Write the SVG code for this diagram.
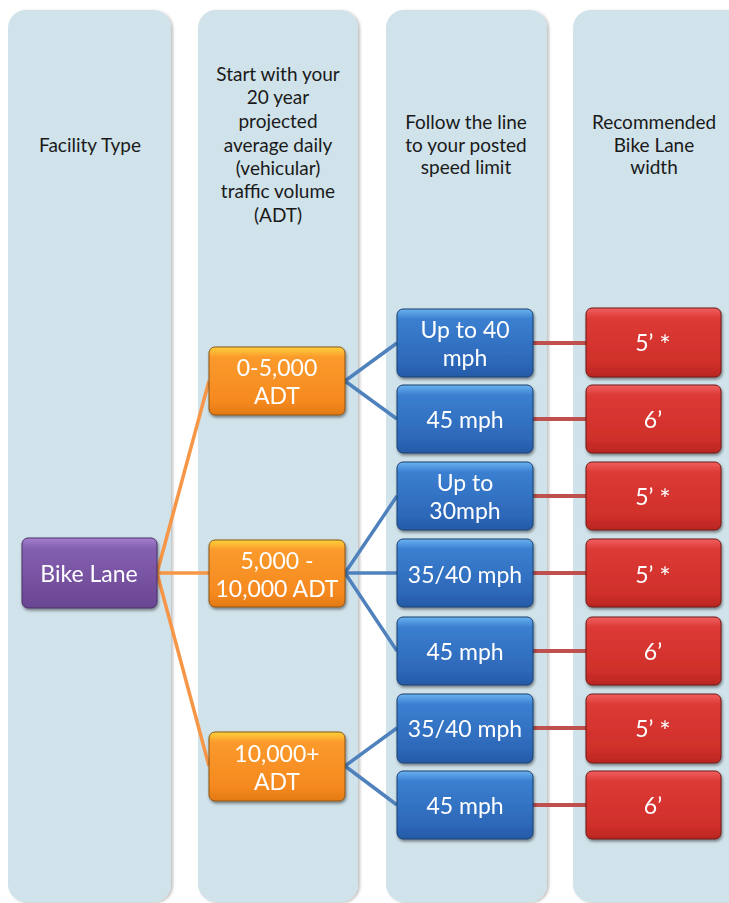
<svg xmlns="http://www.w3.org/2000/svg" width="729" height="903" viewBox="0 0 729 903">
<defs>
<style>
.col{fill:#d0e2ea;}
.hdr{font-family:Lato,"Liberation Sans",sans-serif;font-size:19px;fill:#1a1a1a;text-anchor:middle;}
.nt{font-family:Lato,"Liberation Sans",sans-serif;font-size:23px;fill:#ffffff;text-anchor:middle;}
.ast{font-size:27px;}
.oc{stroke:#f79646;stroke-width:3.5;fill:none;}
.bc{stroke:#4f81bd;stroke-width:3.5;fill:none;}
.rc{stroke:#c0504d;stroke-width:4;fill:none;}
</style>
<linearGradient id="gPurple" x1="0" y1="0" x2="0" y2="1">
<stop offset="0" stop-color="#a580cf"/><stop offset="0.15" stop-color="#8460b0"/><stop offset="1" stop-color="#6a4592"/>
</linearGradient>
<linearGradient id="gOrange" x1="0" y1="0" x2="0" y2="1">
<stop offset="0" stop-color="#fdd23a"/><stop offset="0.15" stop-color="#fb9a2c"/><stop offset="0.8" stop-color="#f5891f"/><stop offset="1" stop-color="#e27a14"/>
</linearGradient>
<linearGradient id="gBlue" x1="0" y1="0" x2="0" y2="1">
<stop offset="0" stop-color="#6ab2f0"/><stop offset="0.15" stop-color="#3b7fd0"/><stop offset="0.8" stop-color="#2d67b8"/><stop offset="1" stop-color="#245aa6"/>
</linearGradient>
<linearGradient id="gRed" x1="0" y1="0" x2="0" y2="1">
<stop offset="0" stop-color="#f06060"/><stop offset="0.15" stop-color="#dd3a35"/><stop offset="0.8" stop-color="#cf2f2a"/><stop offset="1" stop-color="#b92622"/>
</linearGradient>
<filter id="sh" x="-10%" y="-10%" width="125%" height="130%">
<feGaussianBlur in="SourceAlpha" stdDeviation="1.5"/>
<feOffset dx="1" dy="2" result="b"/>
<feComponentTransfer><feFuncA type="linear" slope="0.45"/></feComponentTransfer>
<feMerge><feMergeNode/><feMergeNode in="SourceGraphic"/></feMerge>
</filter>
<filter id="csh" x="-5%" y="-2%" width="110%" height="104%">
<feGaussianBlur in="SourceAlpha" stdDeviation="1.5"/>
<feOffset dx="1.5" dy="1" result="b"/>
<feComponentTransfer><feFuncA type="linear" slope="0.25"/></feComponentTransfer>
<feMerge><feMergeNode/><feMergeNode in="SourceGraphic"/></feMerge>
</filter>
</defs>
<rect width="729" height="903" fill="#ffffff"/>

<g id="columns">
<g id="col-facility"><rect class="col" x="8" y="10" width="163" height="892" rx="18" filter="url(#csh)"/>
<text class="hdr" x="90" y="152">Facility Type</text></g>
<g id="col-adt"><rect class="col" x="198" y="10" width="160" height="892" rx="18" filter="url(#csh)"/>
<text class="hdr" x="278" y="81">Start with your</text>
<text class="hdr" x="278" y="104">20 year</text>
<text class="hdr" x="278" y="128">projected</text>
<text class="hdr" x="278" y="152">average daily</text>
<text class="hdr" x="278" y="175">(vehicular)</text>
<text class="hdr" x="278" y="198">traffic volume</text>
<text class="hdr" x="278" y="222">(ADT)</text></g>
<g id="col-speed"><rect class="col" x="386" y="10" width="161" height="892" rx="18" filter="url(#csh)"/>
<text class="hdr" x="466" y="129">Follow the line</text>
<text class="hdr" x="466" y="152">to your  posted</text>
<text class="hdr" x="466" y="174">speed limit</text></g>
<g id="col-width"><rect class="col" x="573" y="10" width="180" height="892" rx="18" filter="url(#csh)"/>
<text class="hdr" x="654" y="129">Recommended</text>
<text class="hdr" x="654" y="152">Bike Lane</text>
<text class="hdr" x="654" y="174">width</text></g>
</g>

<g id="connectors">
<path class="oc" d="M157,573 L209,381 M157,573 L209,573 M157,573 L209,766"/>
<path class="bc" d="M345,381 L397,343 M345,381 L397,419 M345,573 L397,496 M345,573 L397,573 M345,573 L397,651 M345,766 L397,728 M345,766 L397,805"/>
<path class="rc" d="M533,343 L586,343 M533,419 L586,419 M533,496 L586,496 M533,573 L586,573 M533,651 L586,651 M533,728 L586,728 M533,805 L586,805"/>
</g>

<g id="bike-lane" filter="url(#sh)"><rect x="22" y="538" width="135" height="70" rx="6" fill="url(#gPurple)" stroke="#4b3068" stroke-width="1"/>
<text class="nt" x="89" y="582">Bike Lane</text></g>

<g id="adt-0-5000" filter="url(#sh)"><rect x="209" y="347" width="136" height="68" rx="6" fill="url(#gOrange)" stroke="#8a5418" stroke-width="1"/>
<text class="nt" x="277" y="376">0-5,000</text><text class="nt" x="277" y="404">ADT</text></g>
<g id="adt-5000-10000" filter="url(#sh)"><rect x="209" y="540" width="136" height="67" rx="6" fill="url(#gOrange)" stroke="#8a5418" stroke-width="1"/>
<text class="nt" x="277" y="569">5,000 -</text><text class="nt" x="277" y="597">10,000 ADT</text></g>
<g id="adt-10000plus" filter="url(#sh)"><rect x="209" y="732" width="136" height="69" rx="6" fill="url(#gOrange)" stroke="#8a5418" stroke-width="1"/>
<text class="nt" x="277" y="762">10,000+</text><text class="nt" x="277" y="790">ADT</text></g>

<g id="speed-1" filter="url(#sh)"><rect x="397" y="309" width="136" height="68" rx="6" fill="url(#gBlue)" stroke="#1d406f" stroke-width="1"/>
<text class="nt" x="465" y="338">Up to 40</text><text class="nt" x="465" y="366">mph</text></g>
<g id="speed-2" filter="url(#sh)"><rect x="397" y="385" width="136" height="68" rx="6" fill="url(#gBlue)" stroke="#1d406f" stroke-width="1"/>
<text class="nt" x="465" y="428">45 mph</text></g>
<g id="speed-3" filter="url(#sh)"><rect x="397" y="462" width="136" height="68" rx="6" fill="url(#gBlue)" stroke="#1d406f" stroke-width="1"/>
<text class="nt" x="465" y="491">Up to</text><text class="nt" x="465" y="519">30mph</text></g>
<g id="speed-4" filter="url(#sh)"><rect x="397" y="539" width="136" height="68" rx="6" fill="url(#gBlue)" stroke="#1d406f" stroke-width="1"/>
<text class="nt" x="465" y="583">35/40 mph</text></g>
<g id="speed-5" filter="url(#sh)"><rect x="397" y="617" width="136" height="68" rx="6" fill="url(#gBlue)" stroke="#1d406f" stroke-width="1"/>
<text class="nt" x="465" y="660">45 mph</text></g>
<g id="speed-6" filter="url(#sh)"><rect x="397" y="694" width="136" height="69" rx="6" fill="url(#gBlue)" stroke="#1d406f" stroke-width="1"/>
<text class="nt" x="465" y="737">35/40 mph</text></g>
<g id="speed-7" filter="url(#sh)"><rect x="397" y="771" width="136" height="68" rx="6" fill="url(#gBlue)" stroke="#1d406f" stroke-width="1"/>
<text class="nt" x="465" y="814">45 mph</text></g>

<g id="width-1" filter="url(#sh)"><rect x="586" y="308" width="135" height="69" rx="6" fill="url(#gRed)" stroke="#6e1a17" stroke-width="1"/>
<text class="nt" x="653" y="351">5’ <tspan class="ast" dy="4">*</tspan></text></g>
<g id="width-2" filter="url(#sh)"><rect x="586" y="385" width="135" height="68" rx="6" fill="url(#gRed)" stroke="#6e1a17" stroke-width="1"/>
<text class="nt" x="653" y="428">6’</text></g>
<g id="width-3" filter="url(#sh)"><rect x="586" y="462" width="135" height="68" rx="6" fill="url(#gRed)" stroke="#6e1a17" stroke-width="1"/>
<text class="nt" x="653" y="505">5’ <tspan class="ast" dy="4">*</tspan></text></g>
<g id="width-4" filter="url(#sh)"><rect x="586" y="539" width="135" height="68" rx="6" fill="url(#gRed)" stroke="#6e1a17" stroke-width="1"/>
<text class="nt" x="653" y="583">5’ <tspan class="ast" dy="4">*</tspan></text></g>
<g id="width-5" filter="url(#sh)"><rect x="586" y="617" width="135" height="68" rx="6" fill="url(#gRed)" stroke="#6e1a17" stroke-width="1"/>
<text class="nt" x="653" y="660">6’</text></g>
<g id="width-6" filter="url(#sh)"><rect x="586" y="694" width="135" height="69" rx="6" fill="url(#gRed)" stroke="#6e1a17" stroke-width="1"/>
<text class="nt" x="653" y="737">5’ <tspan class="ast" dy="4">*</tspan></text></g>
<g id="width-7" filter="url(#sh)"><rect x="586" y="771" width="135" height="68" rx="6" fill="url(#gRed)" stroke="#6e1a17" stroke-width="1"/>
<text class="nt" x="653" y="814">6’</text></g>
</svg>
